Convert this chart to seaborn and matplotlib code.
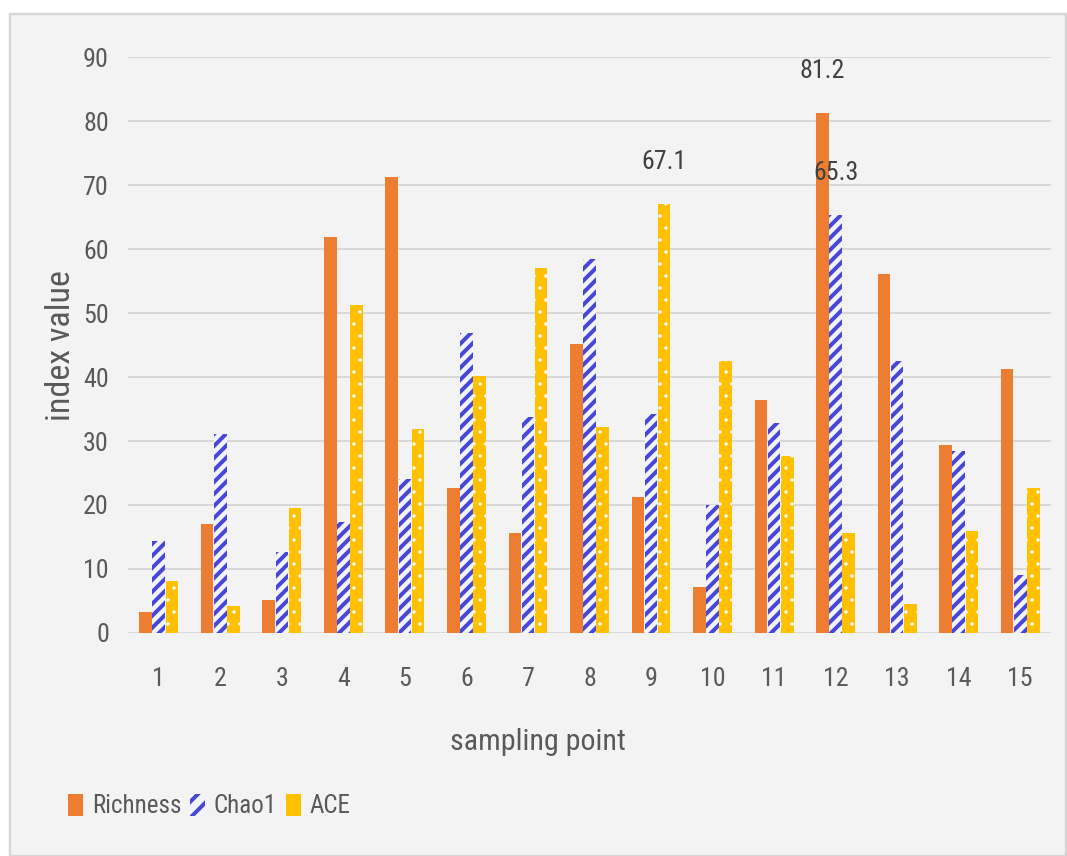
import matplotlib
matplotlib.use("Agg")
import matplotlib.pyplot as plt
import seaborn as sns
import pandas as pd
from matplotlib import font_manager
from matplotlib.patches import Rectangle, Patch

# ---------------- data ----------------
points = [str(i) for i in range(1, 16)]
richness = [3.3, 17.0, 5.1, 61.8, 71.2, 22.6, 15.6, 45.1, 21.3, 7.2, 36.4, 81.2, 56.1, 29.3, 41.2]
chao1 = [14.3, 31.1, 12.6, 17.4, 24.0, 46.9, 33.7, 58.4, 34.2, 20.0, 32.8, 65.3, 42.5, 28.5, 9.1]
ace = [8.1, 4.2, 19.5, 51.3, 31.9, 40.2, 57.0, 32.2, 67.1, 42.5, 27.6, 15.6, 4.6, 16.0, 22.6]
series_names = ["Richness", "Chao1", "ACE"]
y_ticks = [0, 10, 20, 30, 40, 50, 60, 70, 80, 90]
labelled_points = {"Richness": "12", "Chao1": "12", "ACE": "9"}
x_title = "sampling point"
y_title = "index value"

# ---------------- styling ----------------
W, H, DPI = 1067, 856, 144
PT = 72.0 / DPI  # points per pixel

sns.set_style("white")
avail = {f.name for f in font_manager.fontManager.ttflist}
fam = next((f for f in ["Liberation Sans Narrow", "Roboto Condensed", "Liberation Sans"] if f in avail), "DejaVu Sans")
plt.rcParams["font.family"] = [fam, "DejaVu Sans"]
plt.rcParams["hatch.linewidth"] = 2.0

c_rich = "#ED7D31"
c_chao = "#4848D6"
c_chao_face = "#F2F3FC"
c_ace = "#FFC000"
txt = "#595959"

df = pd.DataFrame({"point": points, "Richness": richness, "Chao1": chao1, "ACE": ace})
long = df.melt(id_vars="point", value_vars=series_names, var_name="series", value_name="value")

fig = plt.figure(figsize=(W / DPI, H / DPI), dpi=DPI)
fig.patch.set_facecolor("white")
fig.add_artist(Rectangle((10 / W, 0), (W - 11) / W, (H - 14) / H, transform=fig.transFigure,
                         facecolor="#F4F3F3", edgecolor="#D6D6D6", linewidth=1.2, zorder=-10))

ax = fig.add_axes([128 / W, 1 - 633 / H, (1051 - 128) / W, (633 - 57) / H])
ax.set_facecolor("none")

sns.barplot(data=long, x="point", y="value", hue="series", hue_order=series_names,
            order=points, palette=[c_rich, c_chao, c_ace], saturation=1,
            width=0.64, gap=0.04, linewidth=0, legend=False, ax=ax, zorder=3)

# patterns
for p in ax.containers[1]:
    p.set_facecolor(c_chao_face)
    p.set_edgecolor(c_chao)
    p.set_hatch("////")
    p.set_linewidth(0)
for p in ax.containers[2]:
    p.set_edgecolor("white")
    p.set_hatch("..")
    p.set_linewidth(0)
    if hasattr(p, "set_hatch_linewidth"):
        p.set_hatch_linewidth(0.5)

# data labels
for cont, name in zip(ax.containers, series_names):
    vals = dict(zip(points, df[name]))
    labs = [f"{vals[pt]:.1f}" if pt == labelled_points[name] else "" for pt in points]
    ax.bar_label(cont, labels=labs, padding=15, fontsize=13, color="#404040")

ax.set_ylim(0, 90)
ax.set_xlim(-0.5, 14.5)
ax.set_yticks(y_ticks)
ax.yaxis.grid(True, color="#D2D2D2", linewidth=0.8, zorder=0)
ax.set_axisbelow(True)
for s in ax.spines.values():
    s.set_visible(False)
ax.tick_params(axis="y", length=0, pad=(128 - 109) * PT, labelsize=13, labelcolor=txt)
ax.tick_params(axis="x", length=0, pad=(667 - 633) * PT, labelsize=13, labelcolor=txt)
ax.set_xlabel("")
ax.set_ylabel("")

fig.text(538 / W, 1 - 742 / H, x_title, ha="center", va="center", fontsize=15, color=txt)
fig.text(61 / W, 1 - 346 / H, y_title, ha="center", va="center", rotation=90, fontsize=17, color=txt)

handles = [Patch(facecolor=c_rich, linewidth=0),
           Patch(facecolor=c_chao_face, edgecolor=c_chao, hatch="///", linewidth=0),
           Patch(facecolor=c_ace, linewidth=0)]
fig.legend(handles, series_names, loc="center left", bbox_to_anchor=(68 / W, 1 - 806 / H),
           ncol=3, frameon=False, fontsize=12.5, handlelength=0.6, handleheight=1.0,
           handletextpad=0.35, columnspacing=0.35, borderpad=0, borderaxespad=0,
           labelcolor=txt)

fig.savefig("out.png", dpi=DPI)
